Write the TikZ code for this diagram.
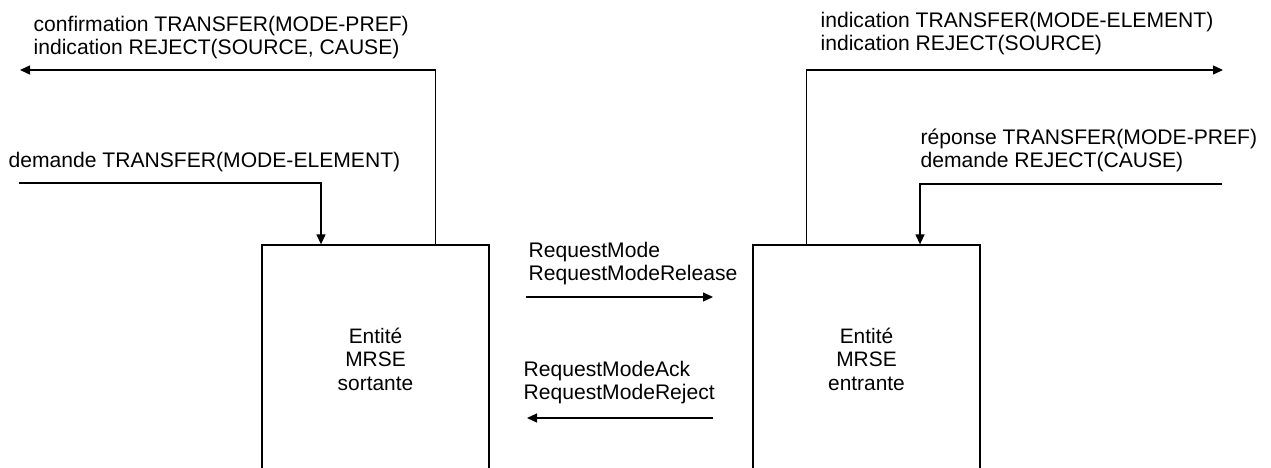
\documentclass[tikz,border=0pt]{standalone}
\usepackage{fontspec}
\setmainfont{Liberation Sans}
\usetikzlibrary{arrows.meta}
\tikzstyle{lbl}=[inner sep=0, anchor=base west, align=left, font=\fontsize{21.1}{23}\selectfont]
\tikzstyle{ent}=[draw, inner sep=0, minimum width=227, minimum height=228, align=center, font=\fontsize{20.9}{23.5}\selectfont]
\tikzstyle{sig}=[-{Triangle[length=10pt, width=9pt]}]

\begin{document}
\begin{tikzpicture}[x=1pt, y=-1pt, line width=1.3pt]
\useasboundingbox (0,0) rectangle (1271,468);
\clip (0,0) rectangle (1271,468);
\node at (375.5,359)[ent](sort){Entité\\MRSE\\sortante};
\node at (866.5,359)[ent](entr){Entité\\MRSE\\entrante};
\node at (33,55)[lbl](conf){confirmation TRANSFER(MODE-PREF)\\indication REJECT(SOURCE, CAUSE)};
\node at (8,167)[lbl](dem){demande TRANSFER(MODE-ELEMENT)};
\node at (820,51)[lbl](ind){indication TRANSFER(MODE-ELEMENT)\\indication REJECT(SOURCE)};
\node at (920,167)[lbl](rep){réponse TRANSFER(MODE-PREF)\\demande REJECT(CAUSE)};
\node at (528,280)[lbl](rqm){RequestMode\\RequestModeRelease};
\node at (523,399)[lbl](ack){RequestModeAck\\RequestModeReject};
\coordinate (lo) at (20,70);
\coordinate (li) at (19,183);
\coordinate (ro) at (1223,70);
\coordinate (ri) at (1222,184);
\coordinate (m1) at (526,297);
\coordinate (m2) at (713,297);
\coordinate (m3) at (713,418);
\coordinate (m4) at (527,418);
\draw[sig] ([xshift=60]sort.north) |- (lo);
\draw[sig] (li) -| ([xshift=-54.5]sort.north);
\draw[sig] ([xshift=-60]entr.north) |- (ro);
\draw[sig] (ri) -| ([xshift=53.5]entr.north);
\draw[sig] (m1)--(m2);
\draw[sig] (m3)--(m4);
\end{tikzpicture}
\end{document}
